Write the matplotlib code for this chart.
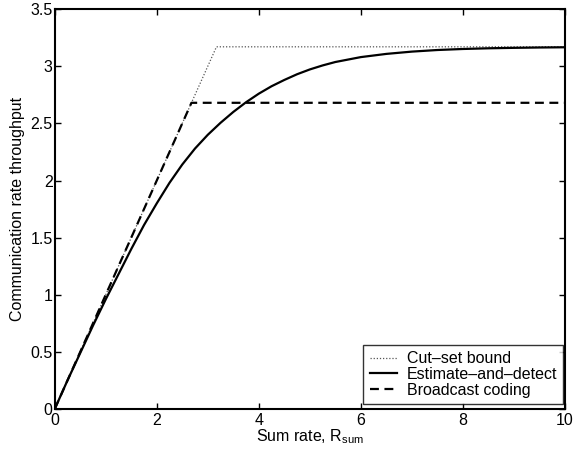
import numpy as np
import matplotlib.pyplot as plt

plt.rcParams['font.family'] = ['Liberation Sans', 'DejaVu Sans']
plt.rcParams['mathtext.fontset'] = 'custom'
plt.rcParams['mathtext.rm'] = 'Liberation Sans'
plt.rcParams['mathtext.it'] = 'Liberation Sans'

# Cut-set bound: y = x up to the cap
cutset_x = [0, 3.17, 10]
cutset_y = [0, 3.17, 3.17]

# Broadcast coding: y = x up to its cap
broadcast_x = [0, 2.68, 10]
broadcast_y = [0, 2.68, 2.68]

# Estimate-and-detect
est_x = [0, 0.25, 0.5, 0.75, 1, 1.25, 1.5, 1.75, 2, 2.25, 2.5, 2.75, 3, 3.25,
         3.5, 3.75, 4, 4.25, 4.5, 4.75, 5, 5.25, 5.5, 6, 6.5, 7, 7.5, 8, 8.5, 9, 9.5, 10]
est_y = [0, 0.25, 0.49, 0.73, 0.96, 1.18, 1.40, 1.61, 1.80, 1.98, 2.14, 2.28, 2.40, 2.505,
         2.60, 2.685, 2.76, 2.825, 2.88, 2.93, 2.972, 3.007, 3.037, 3.08, 3.108, 3.128,
         3.142, 3.151, 3.157, 3.161, 3.164, 3.166]

fig = plt.figure(figsize=(5.74, 4.55), dpi=100)
ax = fig.add_axes([0.0953, 0.101, 0.889, 0.879])

ax.plot(cutset_x, cutset_y, color='#555555', linestyle=(0, (1, 1.5)), linewidth=0.9,
        label='Cut–set bound')
ax.plot(est_x, est_y, color='black', linewidth=1.6, label='Estimate–and–detect')
ax.plot(broadcast_x, broadcast_y, color='black', linestyle=(0, (4, 2.5)), linewidth=1.6,
        label='Broadcast coding')

ax.set_xlim(0, 10)
ax.set_ylim(0, 3.5)
ax.set_xticks([0, 2, 4, 6, 8, 10])
ax.set_yticks([0, 0.5, 1, 1.5, 2, 2.5, 3, 3.5])
ax.set_yticklabels(['0', '0.5', '1', '1.5', '2', '2.5', '3', '3.5'])
ax.tick_params(direction='in', top=True, right=True, length=4.3, width=1, labelsize=11.5)
ax.tick_params(axis='x', pad=3)
ax.tick_params(axis='y', pad=1.5)
for s in ax.spines.values():
    s.set_linewidth(1.5)

ax.set_xlabel('Sum rate, R$_{\\mathrm{sum}}$', fontsize=11.5, labelpad=-1)
ax.set_ylabel('Communication rate throughput', fontsize=11.5, labelpad=4)

leg = ax.legend(loc='lower right', bbox_to_anchor=(0.997, 0.012), fontsize=11.5,
                frameon=True, fancybox=False, borderaxespad=0, borderpad=0.4,
                labelspacing=0.05, handlelength=1.7, handletextpad=0.6)
leg.get_frame().set_edgecolor('black')
leg.get_frame().set_linewidth(1.0)

fig.savefig('out.png', dpi=100)
